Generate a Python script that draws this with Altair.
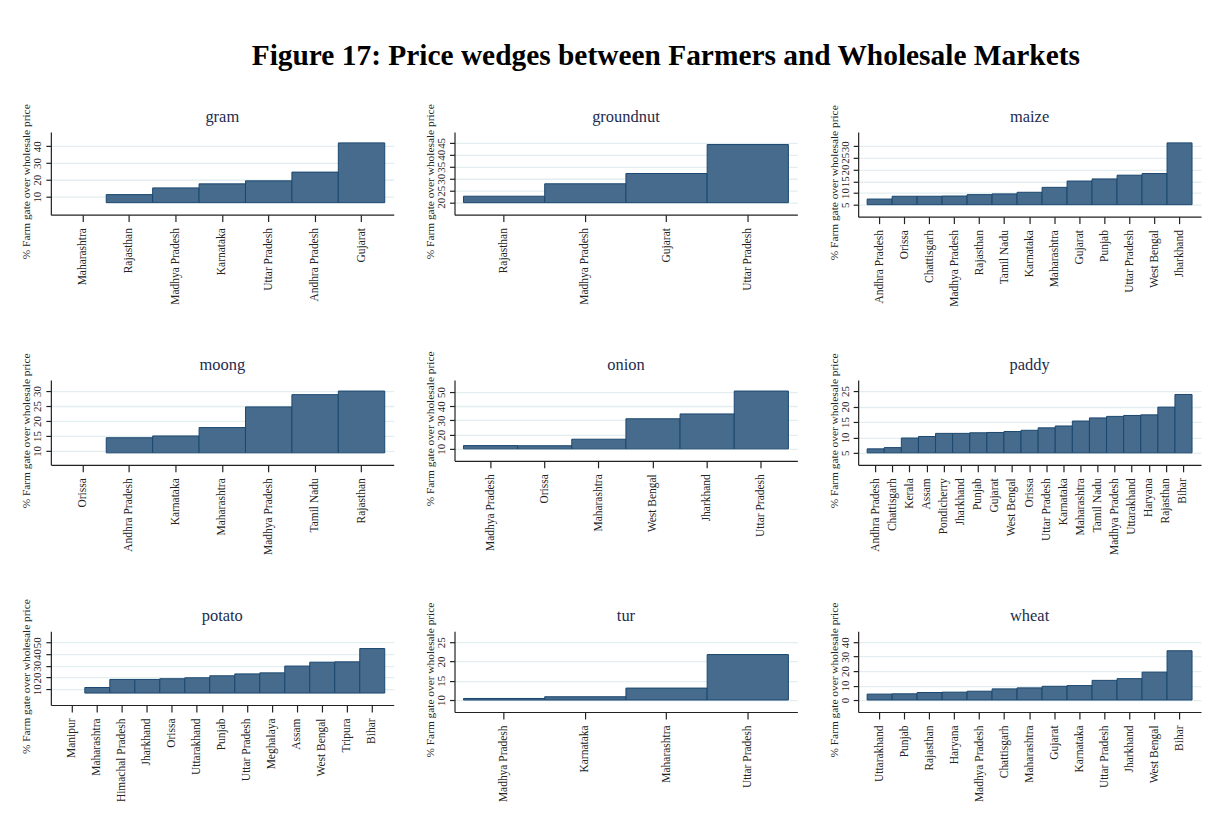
import altair as alt
import pandas as pd

# ---------------- data ----------------
gram_states = ["Maharashtra", "Rajasthan", "Madhya Pradesh", "Karnataka",
               "Uttar Pradesh", "Andhra Pradesh", "Gujarat"]
gram_values = [6.4, 11.2, 15.2, 17.6, 19.4, 24.6, 42.0]
gram_ticks = [10, 20, 30, 40]

groundnut_states = ["Rajasthan", "Madhya Pradesh", "Gujarat", "Uttar Pradesh"]
groundnut_values = [22.7, 27.9, 32.2, 44.3]
groundnut_ticks = [20, 25, 30, 35, 40, 45]

maize_states = ["Andhra Pradesh", "Orissa", "Chattisgarh", "Madhya Pradesh",
                "Rajasthan", "Tamil Nadu", "Karnataka", "Maharashtra",
                "Gujarat", "Punjab", "Uttar Pradesh", "West Bengal", "Jharkhand"]
maize_values = [7.4, 8.6, 8.6, 8.7, 9.3, 9.6, 10.3, 12.4, 15.1, 16.0, 17.6, 18.3, 31.4]
maize_ticks = [5, 10, 15, 20, 25, 30]

moong_states = ["Orissa", "Andhra Pradesh", "Karnataka", "Maharashtra",
                "Madhya Pradesh", "Tamil Nadu", "Rajasthan"]
moong_values = [9.35, 14.4, 15.0, 17.8, 24.7, 28.8, 30.0]
moong_ticks = [10, 15, 20, 25, 30]

onion_states = ["Madhya Pradesh", "Orissa", "Maharashtra", "West Bengal",
                "Jharkhand", "Uttar Pradesh"]
onion_values = [12.3, 12.2, 16.8, 31.2, 34.6, 50.7]
onion_ticks = [10, 20, 30, 40, 50]

paddy_states = ["Andhra Pradesh", "Chattisgarh", "Kerala", "Assam", "Pondicherry",
                "Jharkhand", "Punjab", "Gujarat", "West Bengal", "Orissa",
                "Uttar Pradesh", "Karnataka", "Maharashtra", "Tamil Nadu",
                "Madhya Pradesh", "Uttarakhand", "Haryana", "Rajasthan", "Bihar"]
paddy_values = [6.3, 6.7, 9.8, 10.3, 11.3, 11.3, 11.5, 11.6, 11.9, 12.3,
                13.1, 13.7, 15.3, 16.3, 16.8, 17.1, 17.3, 19.8, 23.9]
paddy_ticks = [5, 10, 15, 20, 25]

potato_states = ["Manipur", "Maharashtra", "Himachal Pradesh", "Jharkhand", "Orissa",
                 "Uttarakhand", "Punjab", "Uttar Pradesh", "Meghalaya", "Assam",
                 "West Bengal", "Tripura", "Bihar"]
potato_values = [6.7, 11.4, 18.3, 18.3, 18.9, 19.7, 21.4, 23.0, 23.9, 29.7, 33.0, 33.3, 44.6]
potato_ticks = [10, 20, 30, 40, 50]

tur_states = ["Madhya Pradesh", "Karnataka", "Maharashtra", "Uttar Pradesh"]
tur_values = [10.4, 10.85, 13.1, 21.8]
tur_ticks = [10, 15, 20, 25]

wheat_states = ["Uttarakhand", "Punjab", "Rajasthan", "Haryana", "Madhya Pradesh",
                "Chattisgarh", "Maharashtra", "Gujarat", "Karnataka", "Uttar Pradesh",
                "Jharkhand", "West Bengal", "Bihar"]
wheat_values = [4.1, 4.3, 5.2, 5.45, 6.1, 7.7, 8.4, 9.5, 10.0, 13.6, 14.8, 19.3, 34.1]
wheat_ticks = [0, 10, 20, 30, 40]

# ---------------- style ----------------
FONT = "Liberation Serif"
W = 344
GAP = 9
FILL = "#476B8C"
EDGE = "#1A476F"
INK = "#222222"
YTITLE = "% Farm gate over wholesale price"


def panel(name, states, values, ticks, height):
    base = min(min(values), min(ticks))
    top = max(max(values), max(ticks))
    inner = height - 23
    lo = base - (top - base) * 12 / inner
    hi = top + (top - base) * 11 / inner
    n = len(states)
    po = GAP * n / (W - 2 * GAP)
    df = pd.DataFrame({"state": states, "value": values, "base": [base] * n})
    bars = alt.Chart(df).mark_bar(fill=FILL, stroke=EDGE, strokeWidth=1).encode(
        x=alt.X("state:N", sort=states,
                scale=alt.Scale(paddingInner=0, paddingOuter=po),
                axis=alt.Axis(title=None, labelAngle=270, tickSize=7, labelPadding=6,
                              labelFontSize=11.5, labelOverlap=False, grid=False)),
        y=alt.Y("value:Q",
                scale=alt.Scale(domain=[lo, hi], nice=False, zero=False),
                axis=alt.Axis(values=ticks, format="d", title=YTITLE, labelAngle=270,
                              tickSize=5, labelPadding=3, labelFontSize=11,
                              labelOverlap=False, labelFlush=False,
                              titleFontSize=11.4, titleFontWeight="normal", titlePadding=0,
                              titleY=height / 2 + 8, titleAlign="center",
                              grid=True)),
        y2="base:Q",
        strokeOpacity=alt.condition("datum.value > datum.base", alt.value(1), alt.value(0)),
    )
    head = alt.Chart(pd.DataFrame({"crop": [name]})).mark_text(
        fontSize=16.5, font=FONT, color="#1E2C4F", align="center", baseline="alphabetic",
    ).encode(text="crop:N", x=alt.value(W / 2), y=alt.value(-10))
    return alt.layer(bars, head).properties(width=W, height=height)


row1 = alt.hconcat(
    panel("gram", gram_states, gram_values, gram_ticks, 83),
    panel("groundnut", groundnut_states, groundnut_values, groundnut_ticks, 83),
    panel("maize", maize_states, maize_values, maize_ticks, 85),
    spacing=30,
)
row2 = alt.hconcat(
    panel("moong", moong_states, moong_values, moong_ticks, 85),
    panel("onion", onion_states, onion_values, onion_ticks, 81),
    panel("paddy", paddy_states, paddy_values, paddy_ticks, 85),
    spacing=30,
)
row3 = alt.hconcat(
    panel("potato", potato_states, potato_values, potato_ticks, 74),
    panel("tur", tur_states, tur_values, tur_ticks, 81),
    panel("wheat", wheat_states, wheat_values, wheat_ticks, 81),
    spacing=30,
)

chart = alt.vconcat(row1, row2, row3, spacing=44).properties(
    title=alt.TitleParams("Figure 17: Price wedges between Farmers and Wholesale Markets",
                          fontSize=29.5, font=FONT, fontWeight="bold", color="black",
                          anchor="middle", dx=55, offset=32),
    padding={"top": 32, "left": 12, "right": 5, "bottom": 5},
).configure(font=FONT).configure_view(strokeWidth=0).configure_axis(
    domainColor=INK, tickColor=INK, labelColor=INK, titleColor=INK,
    labelFont=FONT, titleFont=FONT, domainWidth=1.2, tickWidth=1.2,
    gridColor="#E4EEF0", gridWidth=1.3,
)

chart.save("out.html", embed_options={"renderer": "svg", "actions": False})
